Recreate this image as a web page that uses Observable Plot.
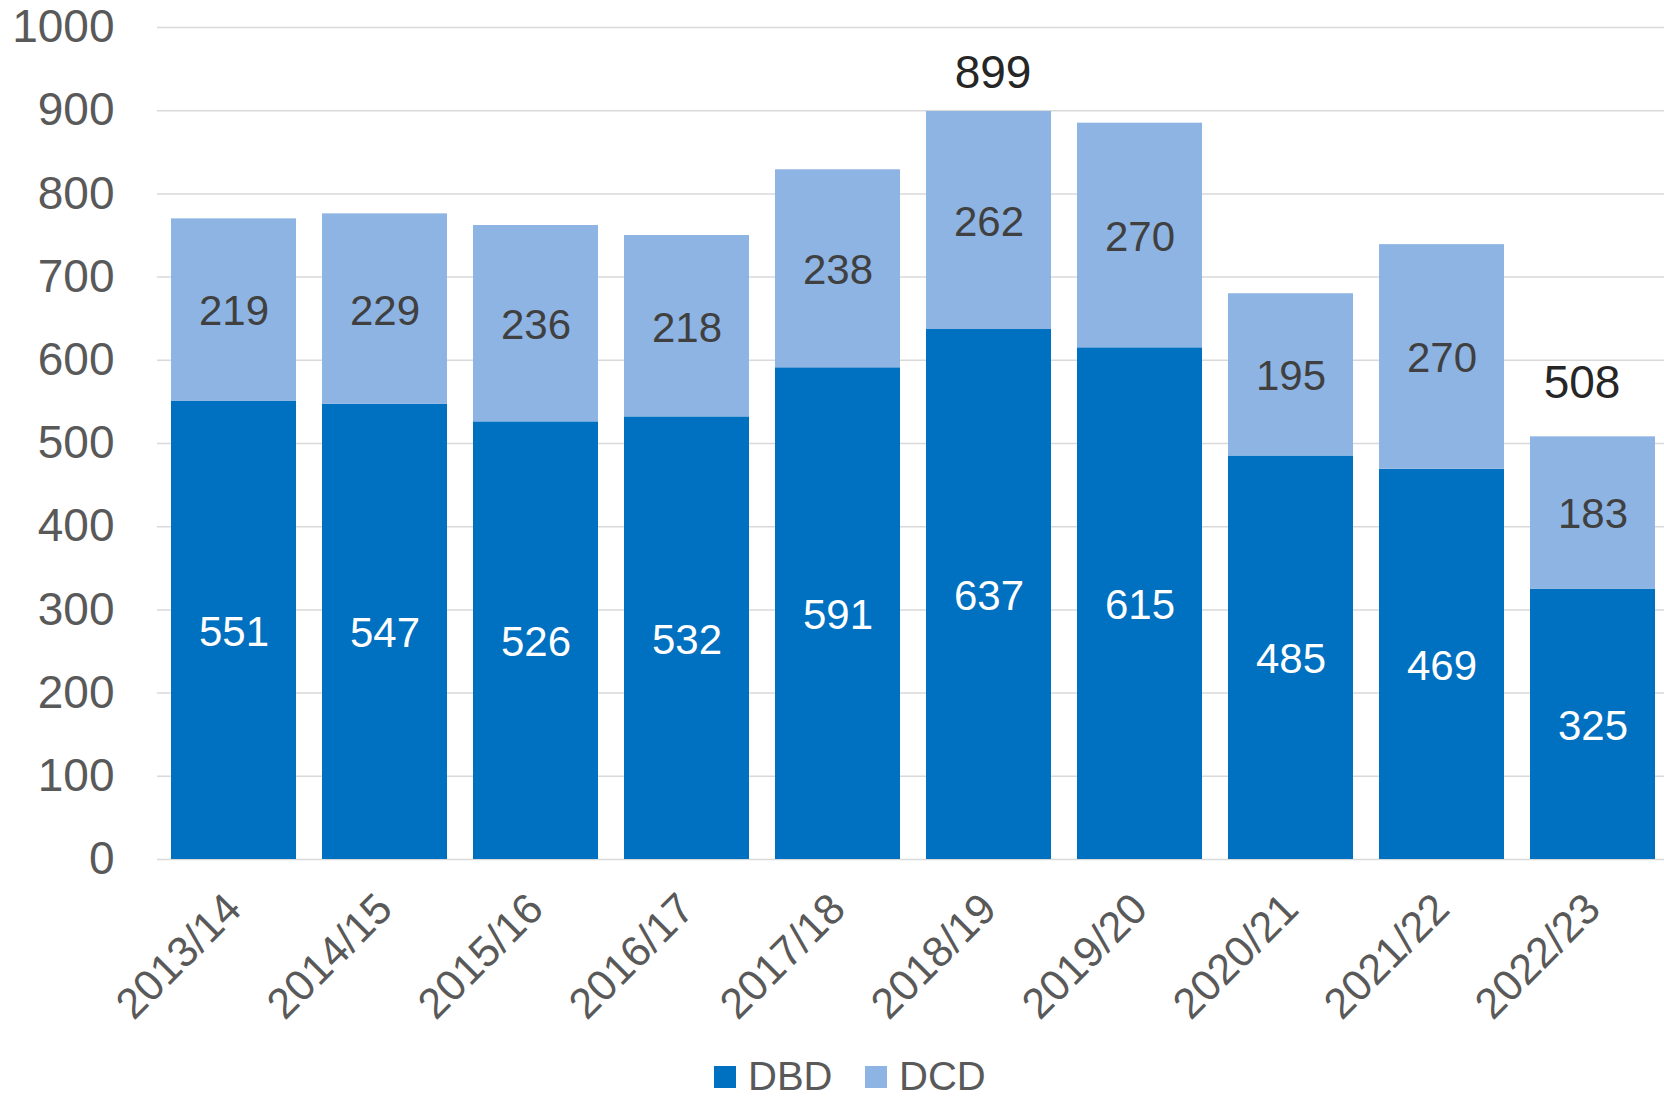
<!DOCTYPE html>
<html>
<head>
<meta charset="utf-8">
<script src="https://cdn.jsdelivr.net/npm/d3@7"></script>
<script src="https://cdn.jsdelivr.net/npm/@observablehq/plot@0.6"></script>
<style>
  html, body { margin: 0; padding: 0; background: #fff; }
  body { width: 1664px; height: 1103px; overflow: hidden; font-family: "Liberation Sans", Arial, sans-serif; }
  #legend { position: relative; height: 63px; }
  .item { position: absolute; top: 5px; height: 63px; display: flex; align-items: center; font-size: 40px; color: #595959; }
  .sw { width: 22px; height: 22px; margin-right: 12px; }
</style>
</head>
<body>
<div id="chart"></div>
<div id="legend">
  <div class="item" style="left:714px"><div class="sw" style="background:#0070C0"></div>DBD</div>
  <div class="item" style="left:865px"><div class="sw" style="background:#8EB4E3"></div>DCD</div>
</div>
<script>
const years = ["2013/14","2014/15","2015/16","2016/17","2017/18","2018/19","2019/20","2020/21","2021/22","2022/23"];
const dbd = [551, 547, 526, 532, 591, 637, 615, 485, 469, 325];
const dcd = [219, 229, 236, 218, 238, 262, 270, 195, 270, 183];
const seriesNames = ["DBD", "DCD"];
const seriesColors = ["#0070C0", "#8EB4E3"];
const totalLabelYears = ["2018/19", "2022/23"];
const yTicks = d3.range(0, 1001, 100);

const data = [];
years.forEach((y, i) => {
  data.push({year: y, series: "DBD", value: dbd[i]});
  data.push({year: y, series: "DCD", value: dcd[i]});
});
const totals = years.map((y, i) => ({year: y, total: dbd[i] + dcd[i]}));

const font = "Liberation Sans, Arial, sans-serif";

const chart = Plot.plot({
  width: 1664,
  height: 1040,
  marginLeft: 157,
  marginRight: 0,
  marginTop: 27,
  marginBottom: 181,
  style: {fontFamily: font, background: "#fff"},
  x: {domain: years, paddingInner: 0.172, paddingOuter: 0.0705, align: 0.6, label: null},
  y: {domain: [0, 1000], label: null},
  color: {domain: seriesNames, range: seriesColors},
  marks: [
    Plot.gridY(yTicks, {stroke: "#d9d9d9", strokeOpacity: 1, strokeWidth: 1.5}),
    Plot.barY(data, Plot.stackY({x: "year", y: "value", z: "series", fill: "series"})),
    Plot.textY(data, Plot.stackY({x: "year", y: "value", z: "series", dy: 2,
      text: d => d.series === "DBD" ? String(d.value) : "", fill: "#ffffff", fontSize: 42, fontFamily: font})),
    Plot.textY(data, Plot.stackY({x: "year", y: "value", z: "series", dy: 2,
      text: d => d.series === "DCD" ? String(d.value) : "", fill: "#404040", fontSize: 42, fontFamily: font})),
    Plot.text(totals.filter(d => d.year === totalLabelYears[0]), {x: "year", y: "total", text: d => String(d.total),
      dy: -38, dx: 4, fill: "#262626", fontSize: 46, fontFamily: font}),
    Plot.text(totals.filter(d => d.year === totalLabelYears[1]), {x: "year", y: "total", text: d => String(d.total),
      dy: -54, dx: -11, fill: "#262626", fontSize: 46, fontFamily: font}),
    Plot.axisY(yTicks, {tickSize: 0, tickPadding: 43, fontSize: 46, fill: "#595959", label: null, tickFormat: d => String(d)}),
    Plot.axisX({tickSize: 0, tickPadding: 42, tickRotate: -45, fontSize: 43, fill: "#595959", label: null})
  ]
});
document.getElementById("chart").appendChild(chart);
</script>
</body>
</html>
